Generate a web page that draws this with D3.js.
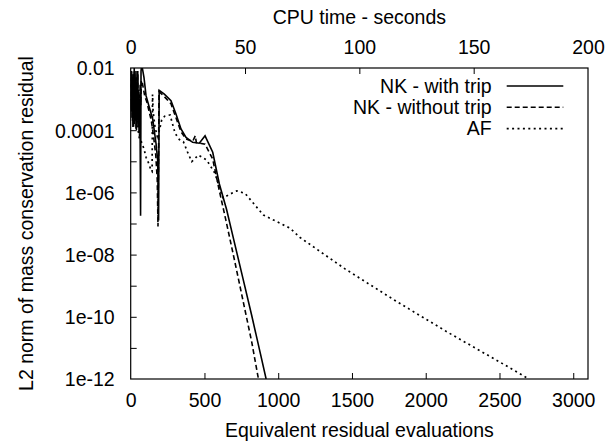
<!DOCTYPE html>
<html><head><meta charset="utf-8">
<script src="https://cdn.jsdelivr.net/npm/d3@7"></script>
<style>body{margin:0;background:#fff}svg{display:block}text{font-family:"Liberation Sans",Arial,Helvetica,sans-serif;fill:#000}</style>
</head><body><svg id="c" width="614" height="447"></svg>
<script>
// Data (x: equivalent residual evaluations, y: log10 of L2 residual)
const bottomTicks = [0, 500, 1000, 1500, 2000, 2500, 3000];
const topTicks = [0, 50, 100, 150, 200];
const yTickExps = [-2, -3, -4, -5, -6, -7, -8, -9, -10, -11, -12];
const yLabelExps = [-2, -4, -6, -8, -10, -12];
const seriesNames = ["NK - with trip", "NK - without trip", "AF"];

const tripX = [0,3,6,9,12,15,18,21,24,27,30,33,36,39,42,45,48,51,54,57,60,64,67,70,75,90,104,126,149,172,183,189,193,228,273,307,341,375,420,465,504,556,601,650,700,760,820,880,918];
const tripY = [-2.3,-3.3,-2.1,-3.6,-2.4,-3.9,-2.2,-3.5,-2.0,-3.8,-2.6,-3.4,-2.1,-4.0,-2.5,-3.7,-2.2,-3.9,-2.8,-4.1,-3.0,-4.3,-6.75,-2.1,-1.9,-2.3,-2.89,-3.26,-3.64,-4.44,-4.98,-6.9,-2.72,-2.84,-3.05,-3.48,-3.96,-4.23,-4.39,-4.42,-4.18,-4.71,-5.73,-6.55,-7.55,-8.75,-9.95,-11.2,-12.0];

const noTripX = [0,4,8,12,16,20,24,28,32,36,40,44,48,52,56,60,64,68,72,80,95,110,125,140,155,170,180,185,192,228,273,307,341,375,420,438,445,470,504,556,601,646,700,760,820,866];
const noTripY = [-2.5,-3.4,-2.2,-3.7,-2.3,-3.9,-2.1,-3.6,-2.6,-4.0,-2.3,-3.5,-2.1,-3.8,-2.7,-4.2,-2.5,-3.2,-2.4,-2.5,-2.9,-3.1,-3.4,-3.7,-4.2,-4.8,-5.6,-7.1,-2.76,-2.92,-3.15,-3.6,-4.05,-4.28,-4.36,-4.18,-4.4,-4.42,-4.45,-4.93,-5.95,-6.91,-8.1,-9.45,-10.8,-12.0];

const afX = [0,5,10,15,20,25,30,35,40,45,50,60,70,90,104,125,138,145,148,152,165,180,195,210,230,267,301,330,357,385,414,459,515,572,606,628,662,719,775,832,900,990,1080,1148,1450,1800,2150,2500,2700];
const afY = [-2.6,-2.1,-3.0,-2.3,-3.4,-2.2,-3.1,-2.5,-3.6,-2.8,-4.0,-4.3,-4.34,-4.6,-4.87,-5.1,-5.3,-5.33,-2.85,-3.4,-3.9,-4.2,-4.0,-3.67,-3.55,-3.51,-4.1,-4.3,-4.37,-4.7,-5.01,-4.8,-4.96,-5.39,-5.92,-6.19,-6.08,-5.95,-6.03,-6.35,-6.73,-6.94,-7.15,-7.45,-8.45,-9.5,-10.5,-11.45,-12.0];

const svg = d3.select("#c");
const L = 130.7, R = 588, T = 68, B = 379;
const x = d3.scaleLinear().domain([0, 3100]).range([L, R]);
const xTop = d3.scaleLinear().domain([0, 200]).range([L, R]);
const y = d3.scaleLog().domain([1e-12, 1e-2]).range([B, T]);
const FS = 19.5;

svg.append("defs").append("clipPath").attr("id","clip")
  .append("rect").attr("x",L).attr("y",T).attr("width",R-L).attr("height",B-T);

// axes via d3 axis generators
const gB = svg.append("g").attr("transform",`translate(0,${B})`)
  .call(d3.axisBottom(x).tickValues(bottomTicks).tickFormat(d3.format("d")).tickSizeInner(-6).tickSizeOuter(0).tickPadding(14));
const gT = svg.append("g").attr("transform",`translate(0,${T})`)
  .call(d3.axisTop(xTop).tickValues(topTicks).tickFormat(d3.format("d")).tickSizeInner(-6).tickSizeOuter(0).tickPadding(14));
const gL = svg.append("g").attr("transform",`translate(${L},0)`)
  .call(d3.axisLeft(y).tickValues(yTickExps.map(e=>Math.pow(10,e))).tickSizeInner(-6).tickSizeOuter(0).tickPadding(16)
    .tickFormat(v=>{const e=Math.round(Math.log10(v)); if(!yLabelExps.includes(e)) return "";
      if(e===-2) return "0.01"; if(e===-4) return "0.0001"; return "1e-"+String(-e).padStart(2,"0");}));
[gB,gT,gL].forEach(g=>{g.select(".domain").remove(); g.selectAll("line").attr("stroke","#000").attr("stroke-width",1);
  g.selectAll("text").attr("font-size",FS).attr("font-family",'"Liberation Sans",Arial,sans-serif').attr("fill","#000");});
gB.selectAll(".tick").filter(d=>d===0).select("line").remove();
gT.selectAll(".tick").filter(d=>d===0||d===200).select("line").remove();
gL.selectAll(".tick").filter(d=>Math.abs(Math.log10(d)+2)<0.01||Math.abs(Math.log10(d)+12)<0.01).select("line").remove();
gB.selectAll("text").attr("dy","0.71em");
gL.selectAll("text").attr("dy","0.35em");

svg.append("rect").attr("x",L).attr("y",T).attr("width",R-L).attr("height",B-T)
  .attr("fill","none").attr("stroke","#000").attr("stroke-width",1.2);

// titles
svg.append("text").attr("x",(L+R)/2).attr("y",24).attr("text-anchor","middle").attr("font-size",FS).text("CPU time - seconds");
svg.append("text").attr("x",(L+R)/2).attr("y",437).attr("text-anchor","middle").attr("font-size",FS).text("Equivalent residual evaluations");
svg.append("text").attr("transform",`translate(33,${(T+B)/2}) rotate(-90)`).attr("text-anchor","middle").attr("font-size",FS)
  .text("L2 norm of mass conservation residual");

// lines
const styles = [{dash:null,w:1.6},{dash:"5,3",w:1.6},{dash:"2,3.4",w:1.7}];
const data = [[tripX,tripY],[noTripX,noTripY],[afX,afY]];
const line = d3.line().x(d=>x(d[0])).y(d=>y(Math.pow(10,d[1])));
const gLines = svg.append("g").attr("clip-path","url(#clip)");
data.forEach((s,i)=>{
  const pts = s[0].map((v,k)=>[v,s[1][k]]);
  const p = gLines.append("path").datum(pts).attr("d",line).attr("fill","none")
    .attr("stroke","#000").attr("stroke-width",styles[i].w).attr("stroke-linejoin","miter");
  if(styles[i].dash) p.attr("stroke-dasharray",styles[i].dash);
});

// legend
const legY = [86, 107.3, 128.6];
seriesNames.forEach((n,i)=>{
  svg.append("text").attr("x",491.7).attr("y",legY[i]).attr("dy","0.35em").attr("text-anchor","end").attr("font-size",FS).text(n);
  const l = svg.append("line").attr("x1",506.7).attr("x2",563.3).attr("y1",legY[i]).attr("y2",legY[i])
    .attr("stroke","#000").attr("stroke-width",styles[i].w);
  if(styles[i].dash) l.attr("stroke-dasharray",styles[i].dash);
});
</script></body></html>
